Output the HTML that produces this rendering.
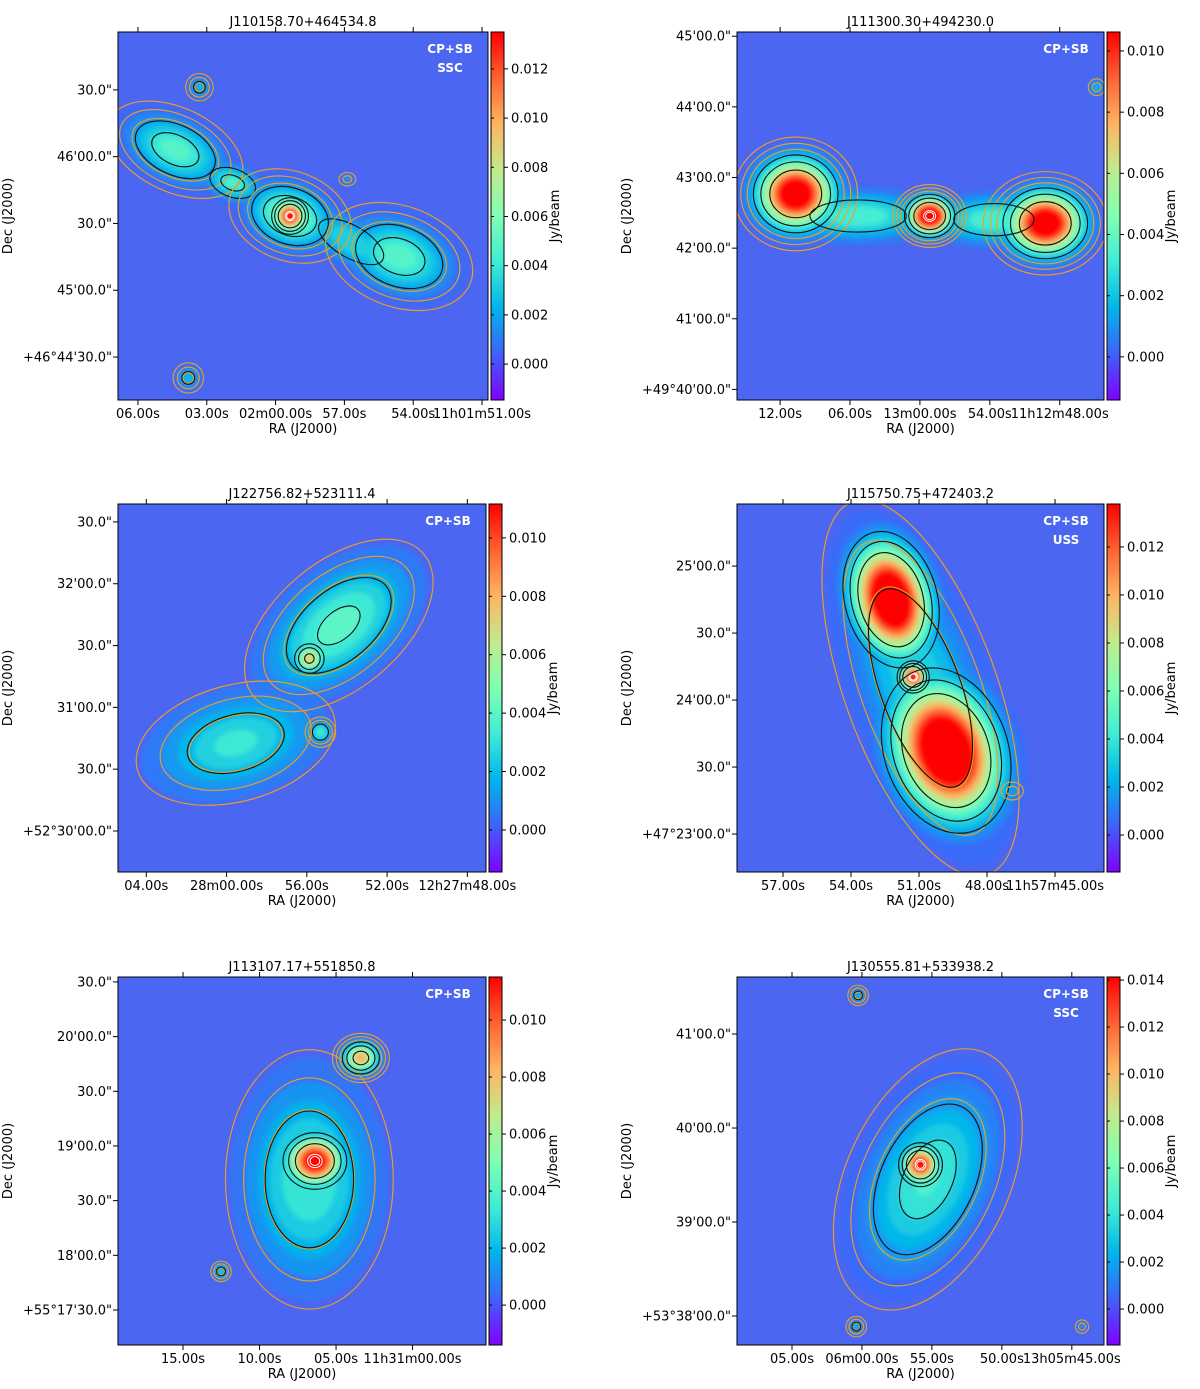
<!DOCTYPE html>
<html><head><meta charset="utf-8"><style>
html,body{margin:0;padding:0;background:#fff;}
svg{display:block;font-family:"DejaVu Sans","Liberation Sans",sans-serif;}
</style></head><body>
<svg id="fig" width="1200" height="1389" viewBox="0 0 1200 1389" xmlns="http://www.w3.org/2000/svg">
<defs>
<filter id="blur" x="-20%" y="-20%" width="140%" height="140%"><feGaussianBlur stdDeviation="2.5"/></filter>
<clipPath id="c0"><rect x="118" y="32" width="370" height="368"/></clipPath>
<clipPath id="c1"><rect x="737" y="32" width="367" height="368"/></clipPath>
<clipPath id="c2"><rect x="118" y="504" width="368" height="368"/></clipPath>
<clipPath id="c3"><rect x="737" y="504" width="367" height="368"/></clipPath>
<clipPath id="c4"><rect x="118" y="977" width="368" height="368"/></clipPath>
<clipPath id="c5"><rect x="737" y="977" width="367" height="368"/></clipPath>
</defs>
</svg>
<script>
// ---- data ----
const titles = ["J110158.70+464534.8","J111300.30+494230.0","J122756.82+523111.4","J115750.75+472403.2","J113107.17+551850.8","J130555.81+533938.2"];
const tags = [["CP+SB","SSC"],["CP+SB"],["CP+SB"],["CP+SB","USS"],["CP+SB"],["CP+SB","SSC"]];
const cbarMin = [-0.00146,-0.00141,-0.00144,-0.00154,-0.0014,-0.00153];
const cbarMax = [0.0135,0.01062,0.01116,0.01379,0.01151,0.01413];
const cbarTicks = [
 [0,0.002,0.004,0.006,0.008,0.010,0.012],
 [0,0.002,0.004,0.006,0.008,0.010],
 [0,0.002,0.004,0.006,0.008,0.010],
 [0,0.002,0.004,0.006,0.008,0.010,0.012],
 [0,0.002,0.004,0.006,0.008,0.010],
 [0,0.002,0.004,0.006,0.008,0.010,0.012,0.014]];
const xTickLabels = [
 ["06.00s","03.00s","02m00.00s","57.00s","54.00s","11h01m51.00s"],
 ["12.00s","06.00s","13m00.00s","54.00s","11h12m48.00s"],
 ["04.00s","28m00.00s","56.00s","52.00s","12h27m48.00s"],
 ["57.00s","54.00s","51.00s","48.00s","11h57m45.00s"],
 ["15.00s","10.00s","05.00s","11h31m00.00s"],
 ["05.00s","06m00.00s","55.00s","50.00s","13h05m45.00s"]];
const xTickVals = [[6,3,0,-3,-6,-9],[12,6,0,-6,-12],[4,0,-4,-8,-12],[57,54,51,48,45],[15,10,5,0],[5,0,-5,-10,-15]];
const xDomain = [[6.87,-9.26],[15.7,-15.8],[5.41,-12.93],[59.03,42.84],[19.25,-4.8],[8.93,-17.3]];
const yTickLabels = [
 ["30.0\"","46'00.0\"","30.0\"","45'00.0\"","+46°44'30.0\""],
 ["45'00.0\"","44'00.0\"","43'00.0\"","42'00.0\"","41'00.0\"","+49°40'00.0\""],
 ["30.0\"","32'00.0\"","30.0\"","31'00.0\"","30.0\"","+52°30'00.0\""],
 ["25'00.0\"","30.0\"","24'00.0\"","30.0\"","+47°23'00.0\""],
 ["30.0\"","20'00.0\"","30.0\"","19'00.0\"","30.0\"","18'00.0\"","+55°17'30.0\""],
 ["41'00.0\"","40'00.0\"","39'00.0\"","+53°38'00.0\""]];
const yTickVals = [[150,120,90,60,30],[300,240,180,120,60,0],[150,120,90,60,30,0],[120,90,60,30,0],[210,180,150,120,90,60,30],[180,120,60,0]];
const yDomain = [[176,10.7],[303.6,-9],[158.7,-19.9],[147.8,-17],[212.7,10.8],[216.4,-18.5]];
// source components: [x-frac, y-frac, sigmaX-frac, sigmaY-frac, rotation deg, peak Jy/beam, contour flag]
const comps = [
 [[0.155,0.32,0.085,0.05,25,0.0055,1],[0.31,0.41,0.05,0.03,20,0.005,0],[0.465,0.5,0.07,0.05,20,0.007,1],[0.465,0.5,0.025,0.025,0,0.016,0],[0.63,0.57,0.09,0.04,30,0.004,0],[0.76,0.61,0.09,0.06,20,0.0055,1],[0.22,0.15,0.02,0.02,0,0.003,1],[0.19,0.94,0.022,0.022,0,0.003,1],[0.62,0.4,0.015,0.012,0,0.002,1]],
 [[0.16,0.44,0.06,0.055,0,0.014,1],[0.525,0.5,0.035,0.03,0,0.015,1],[0.84,0.52,0.06,0.05,0,0.014,1],[0.33,0.5,0.12,0.04,0,0.004,0],[0.7,0.51,0.1,0.04,0,0.004,0],[0.98,0.15,0.015,0.015,0,0.002,1]],
 [[0.6,0.33,0.14,0.08,-40,0.0045,1],[0.52,0.42,0.025,0.025,0,0.008,0],[0.32,0.65,0.14,0.08,-15,0.0035,1],[0.55,0.62,0.02,0.02,0,0.004,1]],
 [[0.5,0.5,0.1,0.26,-20,0.004,1],[0.42,0.26,0.06,0.09,-15,0.02,0],[0.48,0.47,0.022,0.022,0,0.016,0],[0.57,0.67,0.08,0.11,-20,0.02,0],[0.75,0.78,0.02,0.016,0,0.002,1]],
 [[0.52,0.55,0.11,0.17,0,0.004,1],[0.535,0.5,0.045,0.04,0,0.014,0],[0.66,0.22,0.03,0.026,0,0.009,1],[0.28,0.8,0.015,0.015,0,0.003,1]],
 [[0.52,0.55,0.1,0.17,25,0.005,1],[0.5,0.51,0.03,0.03,0,0.016,0],[0.33,0.05,0.015,0.015,0,0.003,1],[0.325,0.95,0.015,0.015,0,0.003,1],[0.94,0.95,0.012,0.012,0,0.002,1]]];
const frames = [[118,32,370,368],[737,32,367,368],[118,504,368,368],[737,504,367,368],[118,977,368,368],[737,977,367,368]];
const fillLevels = [0.0006,0.0012,0.0018,0.0025,0.0032,0.004,0.0048,0.0056,0.0064,0.0072,0.008,0.0088,0.0096,0.0104,0.0112,0.012,0.013,0.014];
const orangeLevels = [0.0009,0.0016,0.0026];
const blackLevels = [0.0022,0.004,0.007];

const stops = [[0,[128,0,255]],[0.125,[64,98,250]],[0.25,[0,180,235]],[0.375,[64,236,212]],[0.5,[128,255,180]],[0.625,[192,235,141]],[0.75,[255,180,98]],[0.875,[255,98,50]],[1,[255,0,0]]];
function cmap(t){t=Math.max(0,Math.min(1,t));for(let i=1;i<stops.length;i++){if(t<=stops[i][0]){const a=stops[i-1],b=stops[i],f=(t-a[0])/(b[0]-a[0]);return 'rgb('+a[1].map((c,k)=>Math.round(c+(b[1][k]-c)*f)).join(',')+')';}}return 'rgb(255,0,0)';}

const NS='http://www.w3.org/2000/svg';
const svg=document.getElementById('fig');
function mk(tag,attrs,parent,text){const e=document.createElementNS(NS,tag);for(const k in attrs)e.setAttribute(k,attrs[k]);if(text!==undefined)e.textContent=text;(parent||svg).appendChild(e);return e;}

for(let p=0;p<6;p++){
 const [fx,fy,fw,fh]=frames[p];
 const vmin=cbarMin[p],vmax=cbarMax[p];
 const tv=v=>(v-vmin)/(vmax-vmin);
 const xs=v=>fx+(v-xDomain[p][0])/(xDomain[p][1]-xDomain[p][0])*fw;
 const ys=v=>fy+(v-yDomain[p][0])/(yDomain[p][1]-yDomain[p][0])*fh;
 const g=mk('g',{});
 
 
 const img=mk('g',{'clip-path':'url(#c'+p+')'},g);
 
 
 const bg=mk('rect',{x:fx,y:fy,width:fw,height:fh,fill:'#4b66f1'},img);
 
 
 const fillG=mk('g',{filter:'url(#blur)'},img);
 const items=[];
 comps[p].forEach(c=>{fillLevels.forEach(v=>{if(v<c[5])items.push([v,c]);});});
 items.sort((a,b)=>a[0]-b[0]);
 items.forEach(([v,c])=>{
  const r=Math.sqrt(2*Math.log(c[5]/v));
  const cx=fx+c[0]*fw,cy=fy+c[1]*fh;
  const e=mk('ellipse',{cx:cx,cy:cy,rx:c[2]*fw*r,ry:c[3]*fh*r,transform:'rotate('+c[4]+' '+cx+' '+cy+')',fill:cmap(tv(v))},fillG);
  
  
 });
 comps[p].forEach(c=>{
  const cx=fx+c[0]*fw,cy=fy+c[1]*fh;
  if(c[6]){
  orangeLevels.forEach(v=>{if(v<c[5]){const r=1.2*Math.sqrt(2*Math.log(c[5]/v));
   const e=mk('ellipse',{cx:cx,cy:cy,rx:c[2]*fw*r,ry:c[3]*fh*r,transform:'rotate('+c[4]+' '+cx+' '+cy+')',fill:'none',stroke:'#f0a020','stroke-width':1.1},img);
   
   }});
  }
  blackLevels.forEach(v=>{if(v<c[5]){const r=Math.sqrt(2*Math.log(c[5]/v));
   const e=mk('ellipse',{cx:cx,cy:cy,rx:c[2]*fw*r,ry:c[3]*fh*r,transform:'rotate('+c[4]+' '+cx+' '+cy+')',fill:'none',stroke:'#111','stroke-width':1.1},img);
   
   }});
  if(c[5]>0.012 && c[2]<0.05){[0.35,0.2].forEach(s=>{const e=mk('ellipse',{cx:cx,cy:cy,rx:c[2]*fw*s+1.5,ry:c[3]*fh*s+1.5,fill:'none',stroke:'#fff','stroke-width':1},img);
   
   });}
 });
 const fr=mk('rect',{x:fx,y:fy,width:fw,height:fh,fill:'none',stroke:'#000','stroke-width':1},g);
 
 
 const t=mk('text',{x:fx+fw/2,y:fy-6,'text-anchor':'middle','font-size':13},g,titles[p]);
 
 
 tags[p].forEach((s,i)=>{const e=mk('text',{x:fx+fw-38,y:fy+21+i*19,'text-anchor':'middle','font-size':12,'font-weight':'bold',fill:'#fff'},g,s);
  
  });
 xTickVals[p].forEach((v,i)=>{const x=xs(v);
  mk('line',{x1:x,x2:x,y1:fy+fh,y2:fy+fh+5,stroke:'#000'},g);
  mk('line',{x1:x,x2:x,y1:fy,y2:fy-5,stroke:'#000'},g);
  const e=mk('text',{x:x,y:fy+fh+18,'text-anchor':'middle','font-size':13},g,xTickLabels[p][i]);
  
  });
 yTickVals[p].forEach((v,i)=>{const y=ys(v);
  mk('line',{x1:fx,x2:fx-5,y1:y,y2:y,stroke:'#000'},g);
  const e=mk('text',{x:fx-6,y:y+4.5,'text-anchor':'end','font-size':13},g,yTickLabels[p][i]);
  
  });
 const xl=mk('text',{x:fx+fw/2,y:fy+fh+33,'text-anchor':'middle','font-size':13},g,'RA (J2000)');
 
 
 const dx=fx-106,dy=fy+fh/2;
 const yl=mk('text',{x:dx,y:dy,'text-anchor':'middle','font-size':13,transform:'rotate(-90 '+dx+' '+dy+')'},g,'Dec (J2000)');
 
 
 const cx0=fx+fw+3,cw=13;
 const gid='cg'+p;
 const lg=mk('linearGradient',{id:gid,x1:0,y1:1,x2:0,y2:0},svg.querySelector('defs'));
 stops.forEach(s=>mk('stop',{offset:s[0],'stop-color':cmap(s[0])},lg));
 const cb=mk('rect',{x:cx0,y:fy,width:cw,height:fh,fill:'url(#'+gid+')',stroke:'#000','stroke-width':1},g);
 
 
 const cys=v=>fy+fh-tv(v)*fh;
 cbarTicks[p].forEach(v=>{const y=cys(v);
  mk('line',{x1:cx0+cw,x2:cx0+cw+4,y1:y,y2:y,stroke:'#000'},g);
  mk('line',{x1:cx0,x2:cx0+3,y1:y,y2:y,stroke:'#000'},g);
  const e=mk('text',{x:cx0+cw+7,y:y+4.5,'font-size':13},g,v.toFixed(3));
  
  });
 const jx=cx0+cw+55,jy=fy+fh/2;
 const jl=mk('text',{x:jx,y:jy,'text-anchor':'middle','font-size':13,transform:'rotate(-90 '+jx+' '+jy+')'},g,'Jy/beam');
 
 
}
</script>
</body></html>
